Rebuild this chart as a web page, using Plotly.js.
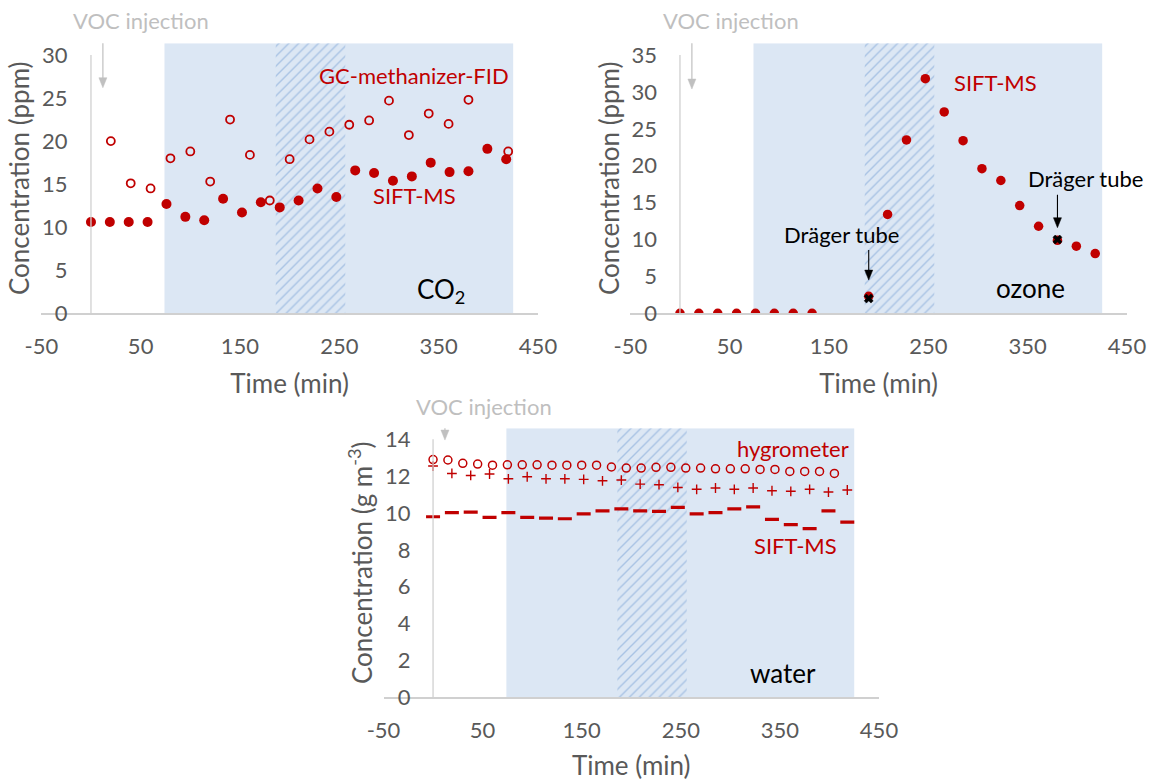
<!DOCTYPE html>
<html>
<head>
<meta charset="utf-8">
<script src="https://cdn.plot.ly/plotly-3.0.1.min.js"></script>
<style>html,body{margin:0;padding:0;background:#fff;}#chart{width:1151px;height:781px;}</style>
</head>
<body>
<div id="chart"></div>
<script>
// ---------- data ----------
const co2SiftTime = [0,19,38,57,76,95,114,133,152,171,190,209,228,247,266,285,304,323,342,361,380,399,418];
const co2SiftConc = [10.6,10.6,10.6,10.6,12.7,11.2,10.8,13.3,11.7,12.9,12.3,13.1,14.5,13.5,16.6,16.3,15.4,15.9,17.5,16.4,16.5,19.1,17.9];
const co2GcTime = [20,40,60,80,100,120,140,160,180,200,220,240,260,280,300,320,340,360,380,420];
const co2GcConc = [20.0,15.1,14.5,18.0,18.8,15.3,22.5,18.4,13.1,17.9,20.2,21.1,21.9,22.4,24.7,20.7,23.2,22.0,24.8,18.8];

const o3SiftTime = [0,19,38,57,76,95,114,133,190,209,228,247,266,285,304,323,342,361,380,399,418];
const o3SiftConc = [0,0,0,0,0,0,0,0,2.3,13.4,23.5,31.8,27.3,23.4,19.6,18.0,14.6,11.8,9.9,9.1,8.1];
const o3DragerTime = [190,380];
const o3DragerConc = [2.0,10.0];

const h2oHygroTime = [0,15,30,45,60,75,90,105,120,135,150,165,180,195,210,225,240,255,270,285,300,315,330,345,360,375,390,405];
const h2oHygroConc = [12.9,12.88,12.7,12.66,12.6,12.62,12.62,12.62,12.6,12.6,12.6,12.6,12.5,12.44,12.44,12.48,12.48,12.44,12.44,12.4,12.4,12.4,12.37,12.37,12.26,12.26,12.26,12.15];
const h2oCrossTime = [0,19,38,57,76,95,114,133,152,171,190,209,228,247,266,285,304,323,342,361,380,399,418];
const h2oCrossConc = [12.55,12.15,12.04,12.12,11.86,11.97,11.86,11.86,11.83,11.75,11.79,11.57,11.54,11.39,11.29,11.36,11.29,11.36,11.21,11.18,11.29,11.14,11.25];
const h2oSiftTime = [0,19,38,57,76,95,114,133,152,171,190,209,228,247,266,285,304,323,342,361,380,399,418];
const h2oSiftConc = [9.80,10.02,10.05,9.77,10.02,9.77,9.73,9.69,9.95,10.12,10.23,10.12,10.09,10.31,9.95,10.02,10.23,10.34,9.66,9.37,9.15,10.12,9.51];

// periods (min): shaded and hatched intervals
const shadedPeriod = [74, 425];
const hatchedPeriod = [186, 256];
const vocInjectionTime = [12];

const xTicks = [-50,50,150,250,350,450];
const xTickText = ['-50','50','150','250','350','450'];

// ---------- style ----------
const RED = '#c00000';
const GREY = '#595959';
const FONT = 'Lato, "Open Sans", sans-serif';
const TICKF = {family: FONT, size: 22, color: GREY};
const TITLEF = {family: FONT, size: 26, color: GREY};
const ANNF = {family: FONT, size: 22, color: RED};
const W = 1151, H = 781;

const panels = [
  {x: [41.3, 538], y: [43.3, 313.3], ymax: 31.36, dtick: 5, top: 30, yPos: 67.5, title: 'Concentration (ppm)'},
  {x: [630.3, 1127], y: [43.3, 313.3], ymax: 36.6, dtick: 5, top: 35, yPos: 657, title: 'Concentration (ppm)'},
  {x: [383.5, 879], y: [428.3, 697.3], ymax: 14.6, dtick: 2, top: 14, yPos: 410.5, title: 'Concentration (g m<sup>-3</sup>)'}
];

const layout = {
  width: W, height: H,
  margin: {l: 0, r: 0, t: 0, b: 0},
  paper_bgcolor: '#fff', plot_bgcolor: 'rgba(0,0,0,0)',
  showlegend: false,
  barmode: 'overlay',
  annotations: [], shapes: []
};

// arrow built from shapes: shaft + head, tip at (x, y) of the given axes, length in px
function arrow(xr, yr, x, y, len, color, width) {
  layout.shapes.push({type: 'line', xref: xr, yref: yr, xsizemode: 'pixel', ysizemode: 'pixel',
    xanchor: x, yanchor: y, x0: 0, x1: 0, y0: 6, y1: len, line: {color: color, width: width}});
  layout.shapes.push({type: 'path', xref: xr, yref: yr, xsizemode: 'pixel', ysizemode: 'pixel',
    xanchor: x, yanchor: y, path: 'M -4 10 L 4 10 L 0 0 Z', fillcolor: color, line: {color: color, width: 0.5}});
}

const traces = [];
panels.forEach((p, i) => {
  const n = i === 0 ? '' : String(i + 1);
  const xa = 'xaxis' + n, ya = 'yaxis' + n;
  const xr = 'x' + n, yr = 'y' + n;
  layout[xa] = {
    domain: [p.x[0] / W, p.x[1] / W], range: [-50, 450], anchor: yr,
    tickvals: xTicks, ticktext: xTickText, ticks: '', showgrid: false, zeroline: false,
    showline: true, linecolor: '#d0d0d0', linewidth: 1.3,
    tickfont: TICKF, ticklabelstandoff: 13,
    title: {text: 'Time (min)', font: TITLEF, standoff: 16}
  };
  layout[ya] = {
    domain: [1 - p.y[1] / H, 1 - p.y[0] / H], range: [0, p.ymax], anchor: 'free', position: p.yPos / W,
    dtick: p.dtick, tick0: 0, ticks: '', showgrid: false, zeroline: false, showline: false,
    tickfont: TICKF,
    title: {text: p.title, font: TITLEF, standoff: 3}
  };
  // shaded period
  traces.push({type: 'bar', x: [(shadedPeriod[0] + shadedPeriod[1]) / 2], y: [p.ymax], width: [shadedPeriod[1] - shadedPeriod[0]],
    xaxis: xr, yaxis: yr, marker: {color: '#dce7f4', line: {width: 0}}, hoverinfo: 'skip'});
  // hatched period
  traces.push({type: 'bar', x: [(hatchedPeriod[0] + hatchedPeriod[1]) / 2], y: [p.ymax], width: [hatchedPeriod[1] - hatchedPeriod[0]],
    xaxis: xr, yaxis: yr,
    marker: {color: '#e6eef9', line: {width: 0}, pattern: {shape: '/', fgcolor: '#a9c3e4', fgopacity: 1, size: 7, solidity: 0.2}},
    hoverinfo: 'skip'});
  // vertical line at x = 0
  layout.shapes.push({type: 'line', xref: xr, yref: yr, x0: 0, x1: 0, y0: 0, y1: p.top, line: {color: '#d0d0d0', width: 1.3}});
  // VOC injection arrow
  const tipY = i === 2 ? 13.96 : (i === 0 ? 26.2 : 30.4);
  arrow(xr, yr, vocInjectionTime[0], tipY, i === 2 ? 20 : 55, '#c0c0c0', 1.2);
});

// ---------- series ----------
traces.push({type: 'scatter', mode: 'markers', name: 'GC-methanizer-FID', x: co2GcTime, y: co2GcConc, xaxis: 'x', yaxis: 'y',
  marker: {symbol: 'circle-open', size: 8, color: RED, line: {width: 1.8, color: RED}}});
traces.push({type: 'scatter', mode: 'markers', name: 'SIFT-MS', x: co2SiftTime, y: co2SiftConc, xaxis: 'x', yaxis: 'y',
  marker: {symbol: 'circle', size: 10, color: RED}});

traces.push({type: 'scatter', mode: 'markers', name: 'SIFT-MS', x: o3SiftTime, y: o3SiftConc, xaxis: 'x2', yaxis: 'y2',
  marker: {symbol: 'circle', size: 9.5, color: RED}});
traces.push({type: 'scatter', mode: 'markers', name: 'Dräger tube', x: o3DragerTime, y: o3DragerConc, xaxis: 'x2', yaxis: 'y2',
  marker: {symbol: 'x', size: 8, color: '#000', line: {width: 0.5, color: '#000'}}});

traces.push({type: 'scatter', mode: 'markers', name: 'hygrometer', x: h2oHygroTime, y: h2oHygroConc, xaxis: 'x3', yaxis: 'y3',
  marker: {symbol: 'circle-open', size: 8, color: RED, line: {width: 1.5, color: RED}}});
traces.push({type: 'scatter', mode: 'markers', name: 'hygrometer (+)', x: h2oCrossTime, y: h2oCrossConc, xaxis: 'x3', yaxis: 'y3',
  marker: {symbol: 'cross-thin', size: 7, color: RED, line: {width: 1.4, color: RED}}});
traces.push({type: 'scatter', mode: 'markers', name: 'SIFT-MS', x: h2oSiftTime, y: h2oSiftConc, xaxis: 'x3', yaxis: 'y3',
  marker: {symbol: 'line-ew', size: 10, color: RED, line: {width: 3.2, color: RED}}});

// ---------- text labels ----------
function lab(px, py, text, font) {
  layout.annotations.push({xref: 'paper', yref: 'paper', x: px / W, y: 1 - py / H, text: text, showarrow: false,
    xanchor: 'center', yanchor: 'middle', font: font});
}
const VOCF = {family: FONT, size: 22, color: '#bfbfbf'};
lab(141, 20.7, 'VOC injection', VOCF);
lab(730.7, 20.7, 'VOC injection', VOCF);
lab(483.7, 406.7, 'VOC injection', VOCF);
lab(413.6, 75, 'GC-methanizer-FID', ANNF);
lab(414.6, 195, 'SIFT-MS', ANNF);
lab(440.5, 290, 'CO<sub>2</sub>', {family: FONT, size: 26, color: '#000'});
lab(995, 82.7, 'SIFT-MS', ANNF);
lab(1030, 288.3, 'ozone', {family: FONT, size: 26, color: '#000'});
lab(841.7, 235, 'Dräger tube', {family: FONT, size: 22, color: '#000'});
lab(1085, 178.3, 'Dräger tube', {family: FONT, size: 22, color: '#000'});
lab(793, 448.3, 'hygrometer', ANNF);
lab(795, 545, 'SIFT-MS', ANNF);
lab(783, 673.3, 'water', {family: FONT, size: 26, color: '#000'});

// Dräger arrows
arrow('x2', 'y2', o3DragerTime[0], 4.5, 30, '#000', 1.1);
arrow('x2', 'y2', o3DragerTime[1], 11.6, 33, '#000', 1.1);

Plotly.newPlot('chart', traces, layout, {staticPlot: true});
</script>
</body>
</html>
